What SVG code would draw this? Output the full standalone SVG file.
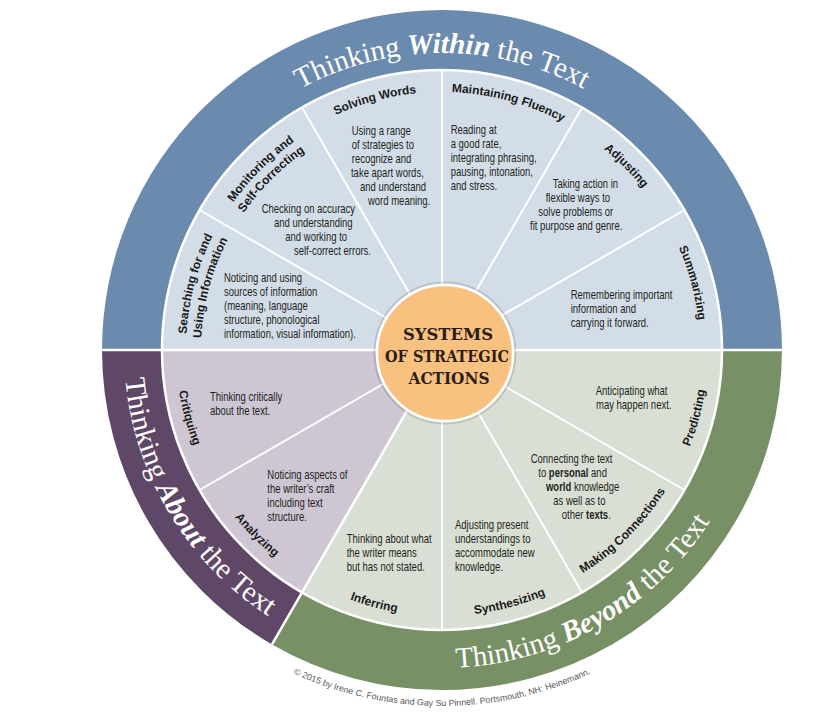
<svg xmlns="http://www.w3.org/2000/svg" width="832" height="723" viewBox="0 0 832 723">
<style>
.ring{font-family:"Liberation Serif","Times New Roman",serif;font-size:29px;fill:#ffffff}
.ring .em{font-weight:bold;font-style:italic}
.t{font-family:"Liberation Sans",Arial,sans-serif;font-weight:bold;font-size:12px;fill:#1a1a1a}
.bd{font-family:"Liberation Sans",Arial,sans-serif;font-size:12.5px;fill:#231f20}
.bd .k{font-weight:bold}
.div{stroke:#ffffff;stroke-width:2;fill:none}
.divw{stroke:#ffffff;stroke-width:2.5;fill:none}
.ctr{font-family:"DejaVu Serif",serif;font-weight:bold;font-size:16.5px;fill:#2b1d14}
.copy{font-family:"Liberation Sans",Arial,sans-serif;font-size:8.8px;fill:#555555}
</style>
<defs>
<path id="pW" d="M162.9,248.4 A297,297 0 0 1 721.1,248.4"/>
<path id="pA" d="M141.3,246.5 A318,318 0 0 0 392.3,664.1"/>
<path id="pB" d="M333.2,648.8 A318,318 0 0 0 755.2,405.2"/>
<path id="pSW" d="M276.2,152.4 A258,258 0 0 1 486.8,95.9"/>
<path id="pMF" d="M397.2,95.9 A258,258 0 0 1 607.8,152.4"/>
<path id="pAd" d="M530.2,107.6 A258,258 0 0 1 684.4,261.8"/>
<path id="pSu" d="M639.6,184.2 A258,258 0 0 1 696.1,394.8"/>
<path id="pM1" d="M201.9,262.6 A255.5,255.5 0 0 1 354.6,109.9"/>
<path id="pM2" d="M215.5,267.6 A241,241 0 0 1 359.6,123.5"/>
<path id="pS1" d="M189.9,394.4 A256,256 0 0 1 245.9,185.4"/>
<path id="pS2" d="M204.7,391.8 A241,241 0 0 1 257.4,195.1"/>
<path id="pCr" d="M180.0,303.8 A266,266 0 0 0 238.2,521.0"/>
<path id="pAn" d="M192.0,441.0 A266,266 0 0 0 351.0,600.0"/>
<path id="pIn" d="M271.0,553.8 A266,266 0 0 0 488.2,612.0"/>
<path id="pSy" d="M395.8,612.0 A266,266 0 0 0 613.0,553.8"/>
<path id="pMC" d="M532.3,598.1 A264,264 0 0 0 690.1,440.3"/>
<path id="pPr" d="M645.8,521.0 A266,266 0 0 0 704.0,303.8"/>
<path id="pC" d="M169.3,578.8 A356,356 0 0 0 714.7,578.8"/>
</defs>
<rect width="832" height="723" fill="#ffffff"/>

<g id="ring-within">
<path d="M442,350 L102,350 A340,340 0 0 1 782,350 Z" fill="#6a8bad"/>
</g>
<g id="ring-beyond">
<path d="M442,350 L782,350 A340,340 0 0 1 272,644.45 Z" fill="#789065"/>
</g>
<g id="ring-about">
<path d="M442,350 L272,644.45 A340,340 0 0 1 102,350 Z" fill="#5f4768"/>
</g>

<g id="inner-within"><path d="M442,350 L162,350 A280,280 0 0 1 722,350 Z" fill="#d3dde7"/></g>
<g id="inner-beyond"><path d="M442,350 L722,350 A280,280 0 0 1 302,592.49 Z" fill="#d9dfd4"/></g>
<g id="inner-about"><path d="M442,350 L302,592.49 A280,280 0 0 1 162,350 Z" fill="#cec7d3"/></g>

<g id="connectors">
<circle cx="442" cy="350" r="280" class="divw"/>
<path class="divw" d="M102,350 L782,350 M442,350 L272,644.45"/>
<path class="div" d="M442,350 L684.49,490 M442,350 L582,592.49 M442,350 L442,630 M442,350 L199.51,490 M442,350 L199.51,210 M442,350 L302,107.51 M442,350 L442,70 M442,350 L582,107.51 M442,350 L684.49,210"/>
</g>

<g id="label-within"><text class="ring" text-anchor="middle"><textPath href="#pW" startOffset="50%">Thinking <tspan class="em">Within</tspan> the Text</textPath></text></g>
<g id="label-about"><text class="ring" text-anchor="middle"><textPath href="#pA" startOffset="50%">Thinking <tspan class="em">About</tspan> the Text</textPath></text></g>
<g id="label-beyond"><text class="ring" text-anchor="middle"><textPath href="#pB" startOffset="50%">Thinking <tspan class="em">Beyond</tspan> the Text</textPath></text></g>

<g id="searching">
<text class="t" text-anchor="middle"><textPath href="#pS1" startOffset="50%">Searching for and</textPath></text>
<text class="t" text-anchor="middle"><textPath href="#pS2" startOffset="50%">Using Information</textPath></text>
<text class="bd" transform="scale(0.76,1)"><tspan x="294.7" y="282">Noticing and using</tspan><tspan x="294.7" y="296">sources of information</tspan><tspan x="294.7" y="310">(meaning, language</tspan><tspan x="294.7" y="324">structure, phonological</tspan><tspan x="294.7" y="338">information, visual information).</tspan></text>
</g>
<g id="monitoring">
<text class="t" text-anchor="middle"><textPath href="#pM1" startOffset="50%">Monitoring and</textPath></text>
<text class="t" text-anchor="middle"><textPath href="#pM2" startOffset="50%">Self-Correcting</textPath></text>
<text class="bd" transform="scale(0.76,1)"><tspan x="344.3" y="213.5">Checking on accuracy</tspan><tspan x="360.5" y="227.5">and understanding</tspan><tspan x="375.4" y="241.5">and working to</tspan><tspan x="386.8" y="255.5">self-correct errors.</tspan></text>
</g>
<g id="solving-words">
<text class="t" text-anchor="middle"><textPath href="#pSW" startOffset="50%">Solving Words</textPath></text>
<text class="bd" transform="scale(0.76,1)"><tspan x="462.8" y="135">Using a range</tspan><tspan x="462.8" y="149">of strategies to</tspan><tspan x="462.8" y="163">recognize and</tspan><tspan x="461.8" y="177">take apart words,</tspan><tspan x="473.7" y="191">and understand</tspan><tspan x="484.2" y="205">word meaning.</tspan></text>
</g>
<g id="maintaining-fluency">
<text class="t" text-anchor="middle"><textPath href="#pMF" startOffset="50%">Maintaining Fluency</textPath></text>
<text class="bd" transform="scale(0.76,1)"><tspan x="593" y="134.5">Reading at</tspan><tspan x="593" y="148.5">a good rate,</tspan><tspan x="593" y="162.5">integrating phrasing,</tspan><tspan x="593" y="176.5">pausing, intonation,</tspan><tspan x="593" y="190.5">and stress.</tspan></text>
</g>
<g id="adjusting">
<text class="t" text-anchor="middle"><textPath href="#pAd" startOffset="50%">Adjusting</textPath></text>
<text class="bd" transform="scale(0.76,1)"><tspan x="727.2" y="188.3">Taking action in</tspan><tspan x="718" y="202.3">flexible ways to</tspan><tspan x="708.3" y="216.3">solve problems or</tspan><tspan x="697.4" y="230.3">fit purpose and genre.</tspan></text>
</g>
<g id="summarizing">
<text class="t" text-anchor="middle"><textPath href="#pSu" startOffset="50%">Summarizing</textPath></text>
<text class="bd" transform="scale(0.76,1)"><tspan x="750.9" y="299.3">Remembering important</tspan><tspan x="750.9" y="313.3">information and</tspan><tspan x="750.9" y="327.3">carrying it forward.</tspan></text>
</g>
<g id="critiquing">
<text class="t" text-anchor="middle"><textPath href="#pCr" startOffset="50%">Critiquing</textPath></text>
<text class="bd" transform="scale(0.76,1)"><tspan x="276.3" y="400.7">Thinking critically</tspan><tspan x="276.3" y="414.7">about the text.</tspan></text>
</g>
<g id="analyzing">
<text class="t" text-anchor="middle"><textPath href="#pAn" startOffset="50%">Analyzing</textPath></text>
<text class="bd" transform="scale(0.76,1)"><tspan x="351.7" y="478.7">Noticing aspects of</tspan><tspan x="351.7" y="492.7">the writer’s craft</tspan><tspan x="351.7" y="506.7">including text</tspan><tspan x="351.7" y="520.7">structure.</tspan></text>
</g>
<g id="inferring">
<text class="t" text-anchor="middle"><textPath href="#pIn" startOffset="50%">Inferring</textPath></text>
<text class="bd" transform="scale(0.76,1)"><tspan x="456.2" y="542.7">Thinking about what</tspan><tspan x="456.2" y="556.7">the writer means</tspan><tspan x="456.2" y="570.7">but has not stated.</tspan></text>
</g>
<g id="synthesizing">
<text class="t" text-anchor="middle"><textPath href="#pSy" startOffset="50%">Synthesizing</textPath></text>
<text class="bd" transform="scale(0.76,1)"><tspan x="598.7" y="529">Adjusting present</tspan><tspan x="598.7" y="543">understandings to</tspan><tspan x="598.7" y="557">accommodate new</tspan><tspan x="598.7" y="571">knowledge.</tspan></text>
</g>
<g id="making-connections">
<text class="t" text-anchor="middle"><textPath href="#pMC" startOffset="50%">Making Connections</textPath></text>
<text class="bd" transform="scale(0.76,1)"><tspan x="698.3" y="463.3">Connecting the text</tspan><tspan x="708.3" y="477.3">to <tspan class="k">personal</tspan> and</tspan><tspan x="718.4" y="491.3"><tspan class="k">world</tspan> knowledge</tspan><tspan x="728" y="505.3">as well as to</tspan><tspan x="739.1" y="519.3">other <tspan class="k">texts</tspan>.</tspan></text>
</g>
<g id="predicting">
<text class="t" text-anchor="middle"><textPath href="#pPr" startOffset="50%">Predicting</textPath></text>
<text class="bd" transform="scale(0.76,1)"><tspan x="783.8" y="395">Anticipating what</tspan><tspan x="784.2" y="409">may happen next.</tspan></text>
</g>

<g id="center">
<circle cx="445" cy="353" r="70.5" fill="none" stroke="#000000" stroke-opacity="0.12" stroke-width="2"/>
<circle cx="445" cy="353" r="68" fill="#f9c17f" stroke="#ffffff" stroke-width="2.5"/>
<text class="ctr" text-anchor="middle"><tspan x="448" y="340" textLength="90" lengthAdjust="spacingAndGlyphs">SYSTEMS</tspan></text>
<text class="ctr" text-anchor="middle"><tspan x="447" y="362" textLength="124" lengthAdjust="spacingAndGlyphs">OF STRATEGIC</tspan></text>
<text class="ctr" text-anchor="middle"><tspan x="449" y="383.5" textLength="81" lengthAdjust="spacingAndGlyphs">ACTIONS</tspan></text>
</g>

<g id="copyright">
<text class="copy" text-anchor="middle"><textPath href="#pC" startOffset="50%">© 2015 by Irene C. Fountas and Gay Su Pinnell. Portsmouth, NH: Heinemann.</textPath></text>
</g>
</svg>
